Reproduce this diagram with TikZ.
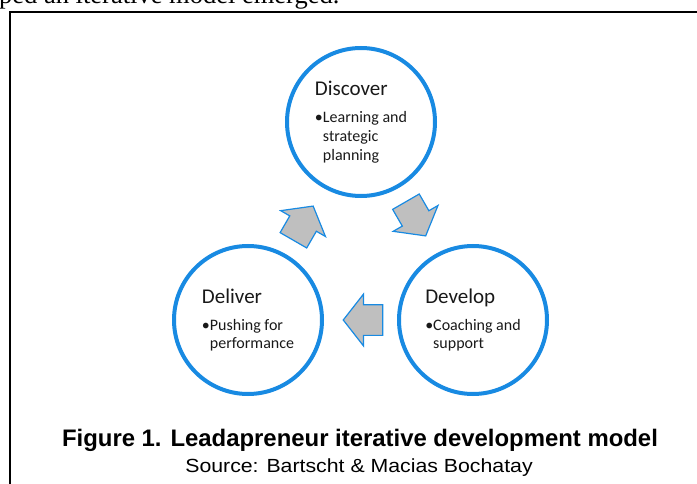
\documentclass[tikz,border=0pt]{standalone}
\usepackage{fontspec}
\setmainfont{Liberation Serif}
\newfontfamily\calibri{Carlito}
\newfontfamily\arial{Liberation Sans}
\newfontfamily\arialwide[FakeStretch=1.12]{Liberation Sans}
\usetikzlibrary{shapes.arrows,positioning,calc}
\definecolor{stageblue}{RGB}{24,138,226}
\definecolor{arrowgrey}{RGB}{191,191,191}

\tikzset{
  stage/.style={circle, draw=stageblue, line width=4pt, minimum size=148pt,
    align=left, text=black!90, font=\calibri\fontsize{16}{18.8}\selectfont},
  flow/.style={single arrow, draw=stageblue, fill=arrowgrey, line width=1.2pt,
    minimum height=39.5pt, minimum width=50.5pt, single arrow head extend=10.5pt,
    single arrow tip angle=104, inner xsep=0pt, inner ysep=14.75pt},
}
\newcommand{\stagetitle}[1]{{\fontsize{21}{24}\selectfont #1}\\[8pt]}

\begin{document}
\begin{tikzpicture}[x=1pt,y=1pt]
  \useasboundingbox (0,0) rectangle (697,483);
  % running text and frame
  \node[anchor=base west, inner sep=0pt, font=\fontsize{26.5}{30}\selectfont] (lead) at (-1,479) {ped an iterative model emerged.};
  \draw[line width=1.8pt] (10,-10) |- (710,471);
  % the three stages
  \node[stage] (discover) at (361,361) {\stagetitle{Discover}\textbullet Learning and\\\hphantom{\textbullet}strategic\\\hphantom{\textbullet}planning};
  \node[stage] (deliver) at (248,163) {\stagetitle{Deliver}\textbullet Pushing for\\\hphantom{\textbullet}performance};
  \node[stage] (develop) at (473,163) {\stagetitle{Develop}\textbullet Coaching and\\\hphantom{\textbullet}support};
  % block arrows between stages
  \node[flow, rotate=60] (toDiscover) at ($(deliver)!0.5!(discover)!8.5pt!(deliver)$) {};
  \node[flow, rotate=-60] (toDevelop) at ($(discover)!0.5!(develop)!8.5pt!(discover)$) {};
  \node[flow, rotate=180] (toDeliver) at ($(develop)!0.5!(deliver)!8.5pt!(develop)$) {};
  % caption
  \node[anchor=base, font=\arial\bfseries\fontsize{23.9}{27}\selectfont] (caption) at (360,37) {Figure 1. Leadapreneur iterative development model};
  \node[anchor=base, font=\arialwide\fontsize{19}{22}\selectfont] (source) at (359,11) {Source: Bartscht \& Macias Bochatay};
\end{tikzpicture}
\end{document}
